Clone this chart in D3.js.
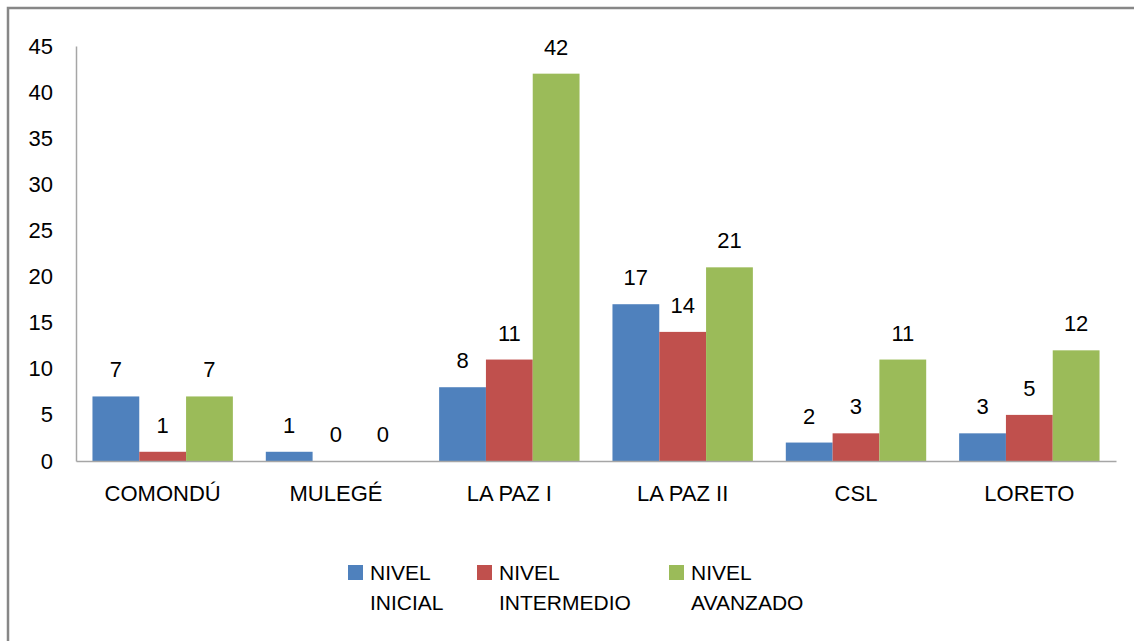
<!DOCTYPE html>
<html>
<head>
<meta charset="utf-8">
<script src="https://cdn.jsdelivr.net/npm/d3@7"></script>
<style>
  body { margin: 0; background: #fff; }
  text { font-family: "Liberation Sans", Arial, sans-serif; fill: #000; }
</style>
</head>
<body>
<svg id="chart" width="1134" height="641"></svg>
<script>
const categories = ["COMONDÚ", "MULEGÉ", "LA PAZ I", "LA PAZ II", "CSL", "LORETO"]
const seriesNames = ["NIVEL INICIAL", "NIVEL INTERMEDIO", "NIVEL AVANZADO"]
const inicial = [7, 1, 8, 17, 2, 3]
const intermedio = [1, 0, 11, 14, 3, 5]
const avanzado = [7, 0, 42, 21, 11, 12]
const yTicks = [0, 5, 10, 15, 20, 25, 30, 35, 40, 45]
const colors = ["#4F81BD", "#C0504D", "#9BBB59"]

const values = [inicial, intermedio, avanzado]

const svg = d3.select("#chart")

// outer frame (like the excel chart border)
svg.append("rect")
    .attr("x", 8).attr("y", 8)
    .attr("width", 1140).attr("height", 650)
    .attr("fill", "none")
    .attr("stroke", "#878787")
    .attr("stroke-width", 2.5)

const plot = { left: 76, right: 1116, top: 46, bottom: 461 }

const x0 = d3.scaleBand()
    .domain(categories)
    .range([plot.left, plot.right])
    .paddingInner(0.19)
    .paddingOuter(0.095)

const x1 = d3.scaleBand()
    .domain(seriesNames)
    .range([0, x0.bandwidth()])

const y = d3.scaleLinear()
    .domain([0, 45])
    .range([plot.bottom, plot.top])

// y axis labels
const yAxis = d3.axisLeft(y).tickValues(yTicks).tickSize(0).tickPadding(23)
const yg = svg.append("g")
    .attr("transform", `translate(${plot.left},0)`)
    .call(yAxis)
yg.select(".domain").attr("stroke", "#A6A6A6").attr("stroke-width", 1.5)
yg.selectAll("text")
    .style("font-size", "22px")
    .attr("font-family", null)

// bars
const groups = svg.selectAll(".cat")
    .data(categories)
    .join("g")
    .attr("class", "cat")
    .attr("transform", d => `translate(${x0(d)},0)`)

groups.each(function (cat, ci) {
    const g = d3.select(this)
    seriesNames.forEach((s, si) => {
        const v = values[si][ci]
        g.append("rect")
            .attr("x", x1(s))
            .attr("y", y(v))
            .attr("width", x1.bandwidth())
            .attr("height", plot.bottom - y(v))
            .attr("fill", colors[si])
        g.append("text")
            .attr("x", x1(s) + x1.bandwidth() / 2)
            .attr("y", y(v) - 19)
            .attr("text-anchor", "middle")
            .style("font-size", "22px")
            .text(v)
    })
})

// x axis
const xAxis = d3.axisBottom(x0).tickSize(0).tickPadding(24)
const xg = svg.append("g")
    .attr("transform", `translate(0,${plot.bottom})`)
    .call(xAxis)
xg.select(".domain").attr("stroke", "#A6A6A6").attr("stroke-width", 1.5)
xg.selectAll("text")
    .style("font-size", "22px")
    .attr("font-family", null)

// legend
const legendX = [348, 477, 669]
const legend = svg.append("g").attr("class", "legend")
seriesNames.forEach((s, i) => {
    const lg = legend.append("g").attr("transform", `translate(${legendX[i]},565)`)
    lg.append("rect")
        .attr("width", 15).attr("height", 15)
        .attr("fill", colors[i])
    const words = s.split(" ")
    const t = lg.append("text")
        .attr("x", 22)
        .attr("y", 15)
        .style("font-size", "21px")
    t.append("tspan").attr("x", 22).text(words[0])
    t.append("tspan").attr("x", 22).attr("dy", 30).text(words.slice(1).join(" "))
})
</script>
</body>
</html>
